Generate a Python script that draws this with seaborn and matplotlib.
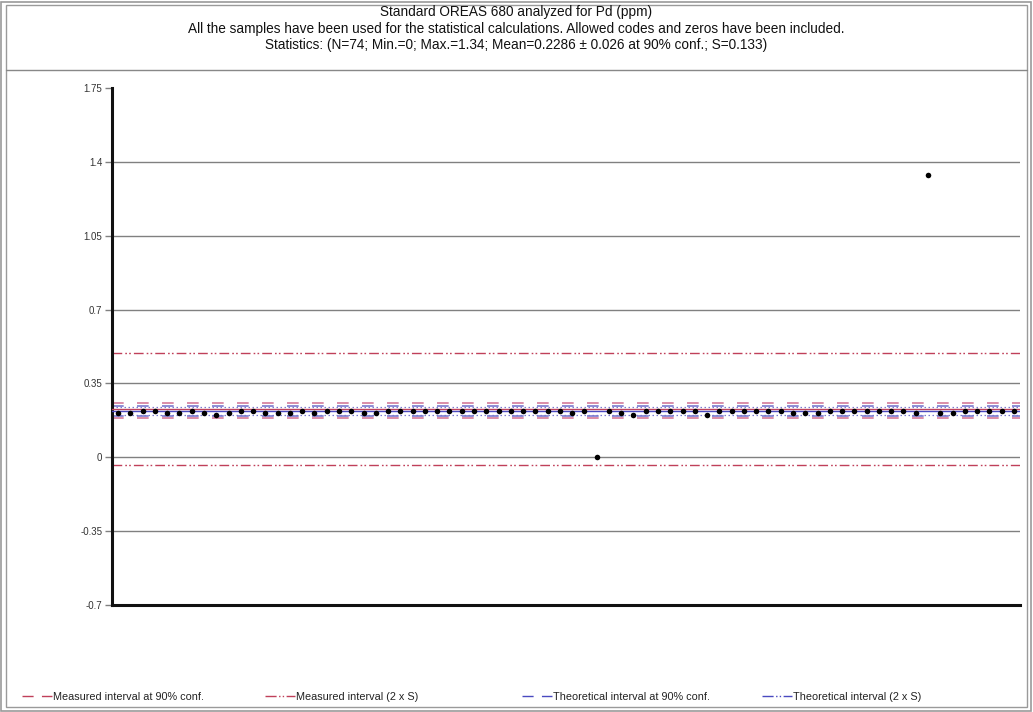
import numpy as np
import pandas as pd
import matplotlib
matplotlib.use("Agg")
import matplotlib.pyplot as plt
import seaborn as sns
from matplotlib.lines import Line2D
from matplotlib.patches import Rectangle

# ---------------- data ----------------
sample_no = list(range(1, 75))
pd_ppm = [0.21, 0.21, 0.22, 0.22, 0.21, 0.21, 0.22, 0.21, 0.20, 0.21,
          0.22, 0.22, 0.21, 0.21, 0.21, 0.22, 0.21, 0.22, 0.22, 0.22,
          0.21, 0.21, 0.22, 0.22, 0.22, 0.22, 0.22, 0.22, 0.22, 0.22,
          0.22, 0.22, 0.22, 0.22, 0.22, 0.22, 0.22, 0.21, 0.22, 0.00,
          0.22, 0.21, 0.20, 0.22, 0.22, 0.22, 0.22, 0.22, 0.20, 0.22,
          0.22, 0.22, 0.22, 0.22, 0.22, 0.21, 0.21, 0.21, 0.22, 0.22,
          0.22, 0.22, 0.22, 0.22, 0.22, 0.21, 1.34, 0.21, 0.21, 0.22,
          0.22, 0.22, 0.22, 0.22]

title_lines = [
    "Standard OREAS 680 analyzed for Pd (ppm)",
    "All the samples have been used for the statistical calculations. Allowed codes and zeros have been included.",
    "Statistics: (N=74; Min.=0; Max.=1.34; Mean=0.2286 \u00b1 0.026 at 90% conf.; S=0.133)",
]
y_ticks = [-0.7, -0.35, 0, 0.35, 0.7, 1.05, 1.4, 1.75]
y_tick_labels = ["-0.7", "-0.35", "0", "0.35", "0.7", "1.05", "1.4", "1.75"]

measured_mean = 0.2286
measured_conf90 = [0.188, 0.255]
measured_2s = [-0.0374, 0.4946]
theoretical_value = 0.218
theoretical_conf90 = [0.196, 0.245]
theoretical_2s = [0.201, 0.237]

legend_labels = ["Measured interval at 90% conf.", "Measured interval (2 x S)",
                 "Theoretical interval at 90% conf.", "Theoretical interval (2 x S)"]

# ---------------- style ----------------
sns.set_theme(style="white")
plt.rcParams["font.family"] = ["Liberation Sans", "DejaVu Sans"]

RED = "#c0405a"
RED_LIGHT = "#d47a9a"
BLUE = "#4a4ac0"
BLUE_LIGHT = "#7a7ad0"
dash = (0, (7, 8))
dashdotdot = (0, (7, 2.2, 1.2, 1.6, 1.2, 2.2))
dotted = (0, (1.2, 2.0))

W, H = 1033, 712
fig = plt.figure(figsize=(W / 100, H / 100), dpi=100)
ax = fig.add_axes([112 / W, 1 - 605 / H, (1020 - 112) / W, (605 - 88) / H])

df = pd.DataFrame({"sample": sample_no, "Pd": pd_ppm})

# grid lines at tick values
for t in y_ticks[1:-1]:
    ax.axhline(t, color="#808080", lw=1.0, zorder=1)

# reference lines
for v in measured_2s:
    ax.axhline(v, color=RED, lw=1.0, ls=dashdotdot, zorder=2)
for v in measured_conf90:
    ax.axhline(v, color=RED_LIGHT, lw=1.2, ls=dash, zorder=2)
for v in theoretical_conf90:
    ax.axhline(v, color=BLUE_LIGHT, lw=1.2, ls=dash, zorder=2)
for v in theoretical_2s:
    ax.axhline(v, color=BLUE_LIGHT, lw=0.9, ls=dotted, zorder=2)
ax.axhline(measured_mean, color=RED, lw=1.0, zorder=3)
ax.axhline(theoretical_value, color=BLUE, lw=1.0, zorder=3)

sns.scatterplot(data=df, x="sample", y="Pd", color="black", s=16,
                linewidth=0, ax=ax, zorder=5, legend=False)

ax.set_xlim(0.5, 74.5)
ax.set_ylim(-0.7, 1.75)
ax.set_xlabel("")
ax.set_ylabel("")
ax.set_xticks([])
ax.set_yticks(y_ticks, y_tick_labels)
ax.tick_params(axis="y", left=True, length=5, width=1.0, color="#808080",
               labelsize=7, labelcolor="#333333", pad=2, direction="out")
for s in ["top", "right"]:
    ax.spines[s].set_visible(False)
for s in ["left", "bottom"]:
    ax.spines[s].set_color("#111111")
    ax.spines[s].set_linewidth(2.2)

# title
for line, yp in zip(title_lines, [12, 29, 45]):
    fig.text(0.5, 1 - yp / H, line, ha="center", va="center",
             fontsize=9.8, color="#111111")

# frames
fig.add_artist(Rectangle((1 / W, 1 / H), (W - 3) / W, (H - 3) / H,
                         transform=fig.transFigure, fill=False, ec="#9a9a9a", lw=1.2))
fig.add_artist(Rectangle((6 / W, 5 / H), (W - 12) / W, (H - 10) / H,
                         transform=fig.transFigure, fill=False, ec="#9a9a9a", lw=1.0))
fig.add_artist(Line2D([6 / W, (W - 6) / W], [1 - 70 / H, 1 - 70 / H],
                      transform=fig.transFigure, color="#888888", lw=1.0))

# legend
handles = [
    Line2D([], [], color=RED, lw=1.0, ls=(0, (8, 6))),
    Line2D([], [], color=RED, lw=1.0, ls=(0, (8, 1.8, 1, 1.6, 1, 1.8))),
    Line2D([], [], color=BLUE, lw=1.0, ls=(0, (8, 6))),
    Line2D([], [], color=BLUE, lw=1.0, ls=(0, (8, 1.8, 1, 1.6, 1, 1.8))),
]
for h, lab, xs in zip(handles, legend_labels, [22, 265, 522, 762]):
    fig.legend([h], [lab], loc="center left", bbox_to_anchor=(xs / W, 1 - 697 / H),
               frameon=False, fontsize=7.8, handlelength=2.8, handletextpad=0.1,
               borderpad=0, borderaxespad=0, labelcolor="#222222")

fig.savefig("out.png", dpi=100)
